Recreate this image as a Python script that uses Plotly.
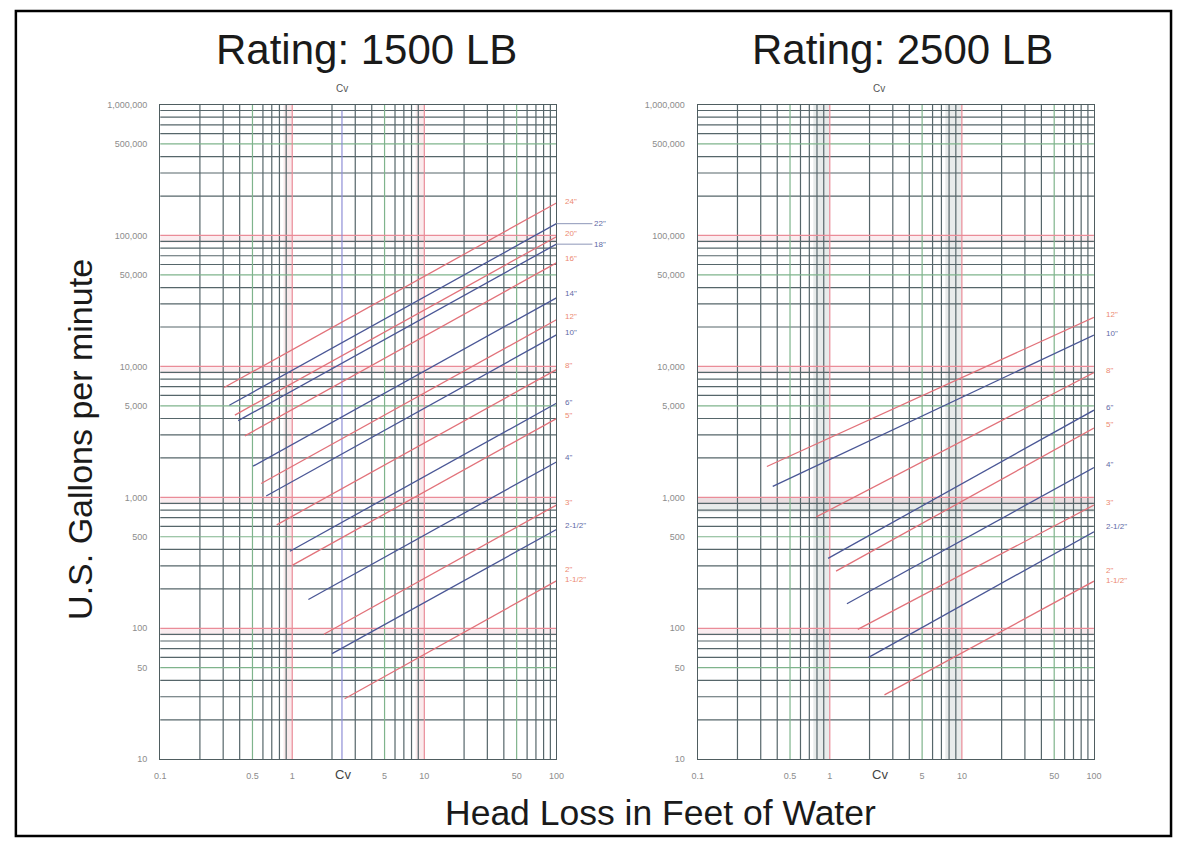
import plotly.graph_objects as go
import math

W, H = 1182, 843

# ---------------- data ----------------
# Rating 1500 LB (left panel)
sizes_1500 = ['24"', '22"', '20"', '18"', '16"', '14"', '12"', '10"', '8"', '6"', '5"', '4"', '3"', '2-1/2"', '2"<br>1-1/2"']
kind_1500 = ['r', 'b', 'r', 'b', 'r', 'b', 'r', 'b', 'r', 'b', 'r', 'b', 'r', 'b', 'r']
head_start_1500 = [0.305, 0.334, 0.368, 0.390, 0.438, 0.505, 0.582, 0.635, 0.763, 0.96, 1.006, 1.325, 1.736, 2.003, 2.493]
gpm_start_1500 = [6900, 5050, 4250, 3850, 2950, 1730, 1275, 1025, 617, 388, 304, 166, 90, 64, 29]
gpm_end_1500 = [177000, 123000, 97800, 85800, 61700, 33400, 22700, 17400, 9440, 5230, 3995, 1863, 873, 568, 230]

# Rating 2500 LB (right panel)
sizes_2500 = ['12"', '10"', '8"', '6"', '5"', '4"', '3"', '2-1/2"', '2"<br>1-1/2"']
kind_2500 = ['r', 'b', 'r', 'b', 'r', 'b', 'r', 'b', 'r']
head_start_2500 = [0.334, 0.37, 0.79, 0.97, 1.115, 1.348, 1.63, 1.969, 2.594]
gpm_start_2500 = [1720, 1213, 709, 342, 273, 154, 98, 60, 31]
gpm_end_2500 = [23700, 17350, 8965, 4632, 3386, 1690, 873, 546, 229]

head_end = 100  # all lines run to the right edge

x_tickvals = [0.1, 0.5, 1, 5, 10, 50, 100]
x_ticktext = ['0.1', '0.5', '1', '5', '10', '50', '100']
y_tickvals = [10, 50, 100, 500, 1000, 5000, 10000, 50000, 100000, 500000, 1000000]
y_ticktext = ['10', '50', '100', '500', '1,000', '5,000', '10,000', '50,000', '100,000', '500,000', '1,000,000']

cv_head = 2.38  # position of the "Cv" reference line

# ---------------- styling ----------------
RED = '#e2727a'
BLUE = '#4a5796'
LAB_RED = '#ec8a72'
LAB_BLUE = '#5f6aa6'
GRID = '#56666a'
GRID_RED = '#ea8c98'
GRID_GREEN = '#7fb48c'

X_DOM = [[156 / W, 557 / W], [700 / W, 1101 / W]]
Y_DOM = [1 - 763.3 / H, 1 - 100.7 / H]

fig = go.Figure()


def add_band(xa, ya, xs, ys, color):
    fig.add_trace(go.Scatter(x=xs, y=ys, fill='toself', fillcolor=color, mode='lines',
                             line=dict(width=0), hoverinfo='skip', showlegend=False,
                             xaxis=xa, yaxis=ya))


def add_lines(xa, ya, segs, color, width):
    xs, ys = [], []
    for (x0, y0, x1, y1) in segs:
        xs += [x0, x1, None]
        ys += [y0, y1, None]
    fig.add_trace(go.Scatter(x=xs, y=ys, mode='lines', line=dict(color=color, width=width),
                             hoverinfo='skip', showlegend=False, xaxis=xa, yaxis=ya))


def grid(xa, ya, panel):
    xmin, xmax, ymin, ymax = 0.1, 100, 10, 1e6
    # shaded bands
    if panel == 0:
        for v in [1, 10]:
            add_band(xa, ya, [0.86 * v, v, v, 0.86 * v, 0.86 * v], [ymin, ymin, ymax, ymax, ymin], 'rgba(236,170,180,0.25)')
    else:
        for v in [1, 10]:
            add_band(xa, ya, [0.75 * v, v, v, 0.75 * v, 0.75 * v], [ymin, ymin, ymax, ymax, ymin], 'rgba(190,198,198,0.35)')
        add_band(xa, ya, [xmin, xmax, xmax, xmin, xmin], [770, 770, 1000, 1000, 770], 'rgba(190,198,198,0.35)')
    for v in [100, 1000, 10000, 100000]:
        add_band(xa, ya, [xmin, xmax, xmax, xmin, xmin], [0.88 * v, 0.88 * v, v, v, 0.88 * v], 'rgba(240,180,190,0.25)')

    dark, red, green = [], [], []
    for d in range(-1, 2):
        for m in range(1, 10):
            v = m * 10 ** d
            seg = (v, ymin, v, ymax)
            if m == 1 and d > -1:
                red.append(seg)
            elif m == 5:
                green.append(seg)
            elif m != 1:
                dark.append(seg)
    for d in range(1, 6):
        for m in range(1, 10):
            v = m * 10 ** d
            seg = (xmin, v, xmax, v)
            if m == 1 and d > 1:
                red.append(seg)
            elif m == 5:
                green.append(seg)
            elif m != 1:
                dark.append(seg)
    add_lines(xa, ya, dark, GRID, 1.2)
    add_lines(xa, ya, green, GRID_GREEN, 1.2)
    add_lines(xa, ya, red, GRID_RED, 1.2)
    if panel == 0:
        add_lines(xa, ya, [(cv_head, ymin, cv_head, 0.9 * ymax)], '#8f8fd6', 1.2)


def curves(xa, ya, hs, gs, ge, kinds):
    for h0, g0, g1, k in zip(hs, gs, ge, kinds):
        fig.add_trace(go.Scatter(x=[h0, head_end], y=[g0, g1], mode='lines',
                                 line=dict(color=RED if k == 'r' else BLUE, width=1.3),
                                 hoverinfo='skip', showlegend=False, xaxis=xa, yaxis=ya))


grid('x', 'y', 0)
grid('x2', 'y2', 1)
curves('x', 'y', head_start_1500, gpm_start_1500, gpm_end_1500, kind_1500)
curves('x2', 'y2', head_start_2500, gpm_start_2500, gpm_end_2500, kind_2500)

axis_common = dict(type='log', showgrid=False, zeroline=False, showline=True, mirror=True,
                   linecolor='#4f5d60', linewidth=1.2, ticks='',
                   tickfont=dict(family='Liberation Sans', size=9, color='#8c8c8c'))
fig.update_layout(
    width=W, height=H, margin=dict(l=0, r=0, t=0, b=0),
    paper_bgcolor='white', plot_bgcolor='white', showlegend=False,
    xaxis=dict(axis_common, domain=X_DOM[0], range=[-1, 2], anchor='y',
               tickvals=x_tickvals, ticktext=x_ticktext, ticklabelstandoff=8),
    yaxis=dict(axis_common, domain=Y_DOM, range=[1, 6], anchor='x',
               tickvals=y_tickvals, ticktext=y_ticktext, ticklabelstandoff=10),
    xaxis2=dict(axis_common, domain=X_DOM[1], range=[-1, 2], anchor='y2',
                tickvals=x_tickvals, ticktext=x_ticktext, ticklabelstandoff=8),
    yaxis2=dict(axis_common, domain=Y_DOM, range=[1, 6], anchor='x2',
                tickvals=y_tickvals, ticktext=y_ticktext, ticklabelstandoff=10),
)

ann = []
# line labels
label_yshift_1500 = [1, 3, 3, 2, 4, 4, 3, 2, 4, 1, 3, 4, 3, 4, 6]
for i, (s, k, g1) in enumerate(zip(sizes_1500, kind_1500, gpm_end_1500)):
    leader = s in ('22"', '18"')
    a = dict(text=s, xref='x domain', yref='y', x=1, y=math.log10(g1),
             font=dict(family='Liberation Sans', size=8, color=LAB_RED if k == 'r' else LAB_BLUE),
             xanchor='left', align='left')
    if leader:
        a.update(showarrow=True, arrowhead=0, arrowwidth=1, arrowcolor='#8d96b8', ax=36, ay=0,
                 yshift=0, xshift=0)
    else:
        a.update(showarrow=False, xshift=7, yshift=label_yshift_1500[i])
    ann.append(a)
label_yshift_2500 = [3, 2, 2, 3, 3, 3, 3, 5, 6]
for i, (s, k, g1) in enumerate(zip(sizes_2500, kind_2500, gpm_end_2500)):
    ann.append(dict(text=s, xref='x2 domain', yref='y2', x=1, y=math.log10(g1),
                    font=dict(family='Liberation Sans', size=8, color=LAB_RED if k == 'r' else LAB_BLUE),
                    xanchor='left', align='left', showarrow=False, xshift=10, yshift=label_yshift_2500[i]))

# titles
for cx, txt in [(365, 'Rating: 1500 LB'), (907, 'Rating: 2500 LB')]:
    ann.append(dict(text=txt, xref='paper', yref='paper', x=cx / W, y=1 - 45 / H, showarrow=False,
                    font=dict(family='Liberation Sans', size=42, color='#1a1a1a'), xanchor='center', yanchor='middle'))
for cx in [340, 883]:
    ann.append(dict(text='Cv', xref='paper', yref='paper', x=cx / W, y=1 - 85 / H, showarrow=False,
                    font=dict(family='Liberation Sans', size=10, color='#555555'), xanchor='center', yanchor='middle'))
    ann.append(dict(text='Cv', xref='paper', yref='paper', x=(cx + 1) / W, y=1 - 779 / H, showarrow=False,
                    font=dict(family='Liberation Sans', size=13, color='#444444'), xanchor='center', yanchor='middle'))
ann.append(dict(text='U.S. Gallons per minute', xref='paper', yref='paper', x=75 / W, y=1 - 440 / H,
                showarrow=False, textangle=-90,
                font=dict(family='Liberation Sans', size=34, color='#1a1a1a'), xanchor='center', yanchor='middle'))
ann.append(dict(text='Head Loss in Feet of Water', xref='paper', yref='paper', x=662 / W, y=1 - 818 / H,
                showarrow=False, font=dict(family='Liberation Sans', size=35.5, color='#1a1a1a'),
                xanchor='center', yanchor='middle'))
fig.update_layout(annotations=ann)

# outer black frame of the scanned page
fig.add_shape(type='rect', xref='paper', yref='paper', x0=10 / W, x1=1179 / W, y0=2 / H, y1=1 - 6 / H,
              line=dict(color='black', width=2.5), fillcolor='rgba(0,0,0,0)', layer='above')

fig.write_html("out.html", config={'displayModeBar': False},
               post_script="document.body.style.margin='0';")
